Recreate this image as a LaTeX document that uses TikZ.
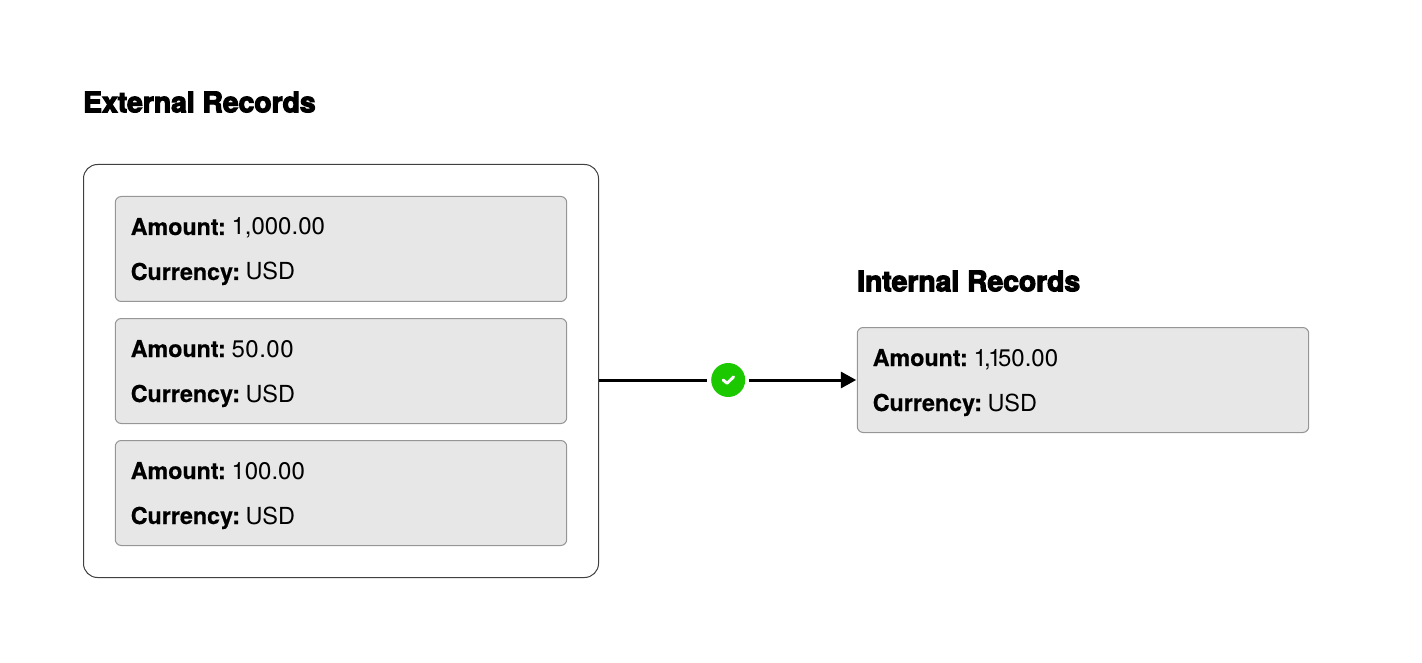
\documentclass[tikz,border=0pt]{standalone}
\usepackage{fontspec}
\setmainfont{TeX Gyre Heros}
\newfontfamily\titlefontbase[BoldFeatures={FakeBold=4}]{TeX Gyre Heros}
\newfontfamily\labfontbase[BoldFeatures={FakeBold=0.5}]{TeX Gyre Heros}
\newcommand{\titlefont}{\titlefontbase\bfseries}
\newcommand{\labfont}{\fontsize{17.45pt}{18pt}\labfontbase\bfseries}
\usetikzlibrary{arrows.meta}
\definecolor{recfill}{HTML}{E7E7E7}
\definecolor{recline}{HTML}{969696}
\definecolor{okgreen}{HTML}{1CC800}
\tikzset{
  x=0.75pt,y=-0.75pt,
  title/.style={anchor=base west,inner sep=0pt,font=\fontsize{21.2pt}{24pt}\titlefont},
  outerbox/.style={draw=black!75,line width=0.75pt,rounded corners=10.5pt,minimum width=386.25pt,minimum height=309.75pt,inner sep=0pt},
  rec/.style={draw=recline,line width=0.75pt,fill=recfill,rounded corners=4.5pt,minimum width=338.6pt,minimum height=78.75pt,inner sep=0pt},
  rectxt/.style={anchor=base west,inner sep=0pt,align=left,font=\fontsize{18pt}{18pt}\selectfont},
  okdot/.style={circle,fill=okgreen,minimum size=25.5pt,inner sep=0pt,outer sep=3pt},
  conn/.style={line width=2.25pt,draw=black},
  arrowc/.style={conn,-{Triangle[length=11.5pt,width=12pt]},shorten >=0.4pt}
}
\begin{document}
\begin{tikzpicture}
\useasboundingbox (0,0) rectangle (1422,663);
\node[title] (t1) at (83,112.2) {External Records};
\node[title] (t2) at (857,291.2) {Internal Records};
\node[outerbox] (outer) at (341,371) {};
\node[rec] (r1) at (341,249) {};
\node[rec] (r2) at (341,371) {};
\node[rec] (r3) at (341,493) {};
\node[rec] (r4) at (1083,380) {};
\node[rectxt] (a1) at (130.5,235) {\labfont Amount:};
\node[rectxt,anchor=base west] (v1) at (a1.base east) {\hspace{3.9pt}1,000.00};
\node[rectxt] (c1) at (130.5,280) {\labfont Currency:};
\node[rectxt,font=\fontsize{17.6pt}{18pt}\selectfont] (u1) at (c1.base east) {\hspace{3.7pt}USD};
\node[rectxt] (a2) at (130.5,357) {\labfont Amount:};
\node[rectxt] (v2) at (a2.base east) {\hspace{3.9pt}5\kern0.4pt0\kern0.4pt.\kern0.4pt0\kern0.4pt0};
\node[rectxt] (c2) at (130.5,402) {\labfont Currency:};
\node[rectxt,font=\fontsize{17.6pt}{18pt}\selectfont] (u2) at (c2.base east) {\hspace{3.7pt}USD};
\node[rectxt] (a3) at (130.5,479) {\labfont Amount:};
\node[rectxt] (v3) at (a3.base east) {\hspace{3.9pt}100.00};
\node[rectxt] (c3) at (130.5,524) {\labfont Currency:};
\node[rectxt,font=\fontsize{17.6pt}{18pt}\selectfont] (u3) at (c3.base east) {\hspace{3.7pt}USD};
\node[rectxt] (a4) at (872.5,366) {\labfont Amount:};
\node[rectxt] (v4) at (a4.base east) {\hspace{3.9pt}1\kern-2pt,\kern-2pt1\kern-2.6pt50.00};
\node[rectxt] (c4) at (872.5,411) {\labfont Currency:};
\node[rectxt,font=\fontsize{17.6pt}{18pt}\selectfont] (u4) at (c4.base east) {\hspace{3.7pt}USD};
\node[okdot] (ok) at (728.2,380) {};
\draw[white,line width=2.2pt,line cap=round,line join=round] (723.2,380) -- (727,383.3) -- (733.7,376.8);
\draw[conn] (outer.east |- ok) -- (ok.west);
\draw[arrowc] (ok.east) -- (r4.west);
\end{tikzpicture}
\end{document}
